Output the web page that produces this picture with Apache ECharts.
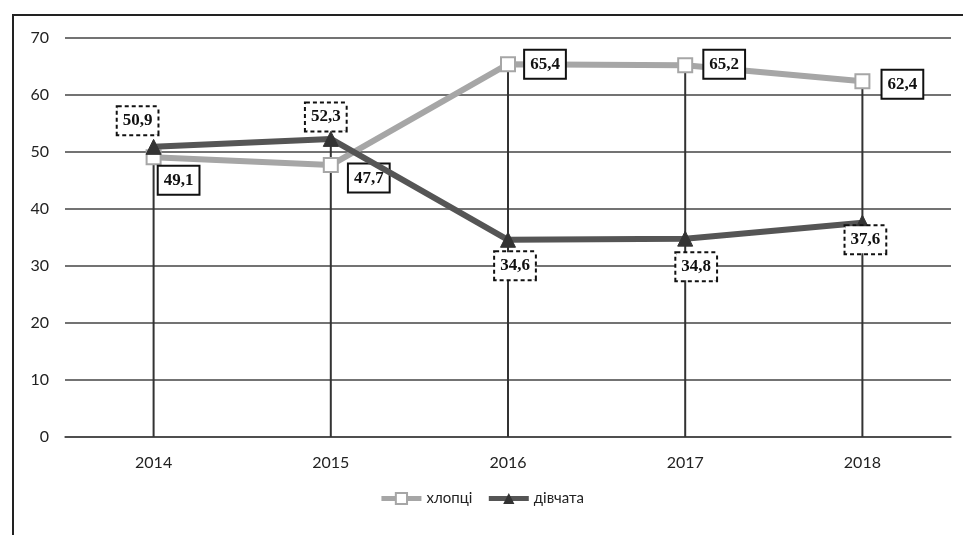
<!DOCTYPE html>
<html>
<head>
<meta charset="utf-8">
<script src="https://cdn.jsdelivr.net/npm/echarts@6/dist/echarts.min.js"></script>
<style>
  html, body { margin: 0; padding: 0; background: #fff; }
  #chart { width: 963px; height: 535px; }
</style>
</head>
<body>
<div id="chart"></div>
<script>
// дані
var years = ['2014', '2015', '2016', '2017', '2018'];
var boys = [49.1, 47.7, 65.4, 65.2, 62.4];
var girls = [50.9, 52.3, 34.6, 34.8, 37.6];
var yTicks = [0, 10, 20, 30, 40, 50, 60, 70];

// зсуви підписів (px від точки)
var boysLabelOffset = [[25, 23], [38, 13], [37, 0], [39, -1], [40, 3]];
var girlsLabelOffset = [[-16, -26], [-5, -22], [7, 26], [11, 28], [3, 17]];

var dropTops = years.map(function (y, i) { return Math.max(boys[i], girls[i]); });

function fmt(p) { return String(p.value).replace('.', ','); }

function labelBox(dashed) {
    return {
        show: true,
        position: 'inside',
        formatter: fmt,
        fontFamily: 'Liberation Serif',
        fontWeight: 'bold',
        fontSize: 17,
        color: '#111',
        backgroundColor: '#fff',
        borderColor: '#111',
        borderWidth: 2,
        borderType: dashed ? [4, 3] : 'solid',
        padding: [6, 5, 4, 5]
    };
}

var chart = echarts.init(document.getElementById('chart'));
chart.setOption({
    backgroundColor: '#fff',
    animation: false,
    graphic: [{
        type: 'polyline',
        shape: { points: [[13, 535], [13, 15], [963, 15]] },
        style: { stroke: '#222', lineWidth: 2, fill: null }
    }],
    grid: { left: 65, right: 12, top: 38, bottom: 98 },
    legend: {
        bottom: 24,
        left: 'center',
        itemWidth: 40,
        itemHeight: 14,
        itemGap: 14,
        lineStyle: { width: 5 },
        textStyle: { fontFamily: 'Lato', fontSize: 15, color: '#222' },
        data: ['хлопці', 'дівчата']
    },
    xAxis: {
        type: 'category',
        data: years,
        axisLine: { lineStyle: { color: '#444', width: 1.5 } },
        axisTick: { show: false },
        axisLabel: { fontFamily: 'Lato', fontSize: 16, color: '#222', margin: 18 }
    },
    yAxis: {
        type: 'value',
        min: yTicks[0],
        max: yTicks[yTicks.length - 1],
        interval: 10,
        axisLine: { show: false },
        axisTick: { show: false },
        axisLabel: { fontFamily: 'Lato', fontSize: 16, color: '#222', margin: 16 },
        splitLine: { lineStyle: { color: '#444', width: 1.5 } }
    },
    series: [
        {
            name: 'drop',
            type: 'bar',
            data: dropTops,
            barWidth: 2,
            itemStyle: { color: '#333' },
            silent: true,
            z: 1
        },
        {
            name: 'хлопці',
            type: 'line',
            data: boys.map(function (v, i) {
                var l = labelBox(false);
                l.offset = boysLabelOffset[i];
                return { value: v, label: l };
            }),
            lineStyle: { color: '#a6a6a6', width: 6 },
            itemStyle: { color: '#fff', borderColor: '#a6a6a6', borderWidth: 2 },
            symbol: 'rect',
            symbolSize: 14,
            showAllSymbol: true,
            z: 3
        },
        {
            name: 'дівчата',
            type: 'line',
            data: girls.map(function (v, i) {
                var l = labelBox(true);
                l.offset = girlsLabelOffset[i];
                return { value: v, label: l };
            }),
            lineStyle: { color: '#555', width: 6 },
            itemStyle: { color: '#333', borderColor: '#333' },
            symbol: 'triangle',
            symbolSize: 15,
            showAllSymbol: true,
            z: 4
        }
    ]
});
</script>
</body>
</html>
